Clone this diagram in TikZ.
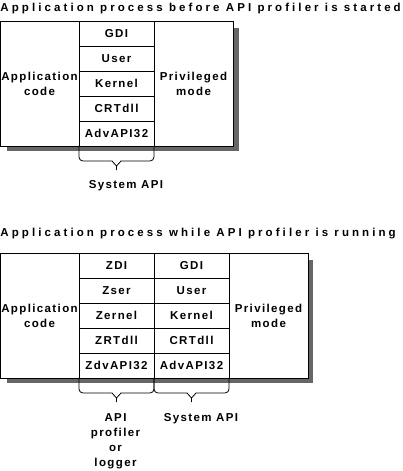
\documentclass[tikz,border=0pt]{standalone}
\usepackage{fontspec}
\setmainfont{Liberation Sans}[LetterSpace=12]
\newfontfamily\headfont{Liberation Sans}[LetterSpace=26.8]
\usetikzlibrary{positioning}

\begin{document}
\begin{tikzpicture}[x=1pt,y=-1pt,line width=1pt,node distance=0pt,
   every node/.style={font=\fontsize{11.5}{15}\selectfont\bfseries,inner sep=0pt},
   bigbox/.style={draw,fill=white,outer sep=0pt,minimum width=79pt,minimum height=125pt,align=center},
   cell/.style={draw,fill=white,outer sep=0pt,minimum width=75pt,minimum height=25pt},
   shade/.style={fill=black!60},
   title/.style={anchor=base west,font=\headfont\fontsize{11.5}{15}\selectfont\bfseries}]
   \useasboundingbox (0,0) rectangle (403,471);
   % before the profiler is started
   \node[title] (head1) at (0,11.5) {Application process before API profiler is started};
   \fill[shade] (7,28) rectangle (239,151);
   \node[bigbox,anchor=north west] (app1) at (0,21) {Application\\code};
   \node[cell,anchor=north west] (gdi1) at (app1.north east) {GDI};
   \node[cell,below=of gdi1] (user1) {User};
   \node[cell,below=of user1] (kernel1) {Kernel};
   \node[cell,below=of kernel1] (crt1) {CRTdll};
   \node[cell,below=of crt1] (adv1) {AdvAPI32};
   \node[bigbox,anchor=north west] (priv1) at (gdi1.north east) {Privileged\\mode};
   \draw[line width=0.8pt] (adv1.south west) -- ++(0,11) arc[start angle=180,end angle=90,radius=4]
      -- ++(29,0) -- ++(4.5,5) -- ++(0,4) ++(0,-4) -- ++(4.5,-5) -- ++(29,0)
      arc[start angle=90,end angle=0,radius=4] -- (adv1.south east);
   \node[anchor=base] (sys1) at (126,188) {System API};
   % while the profiler is running
   \node[title] (head2) at (0,236) {Application process while API profiler is running};
   \fill[shade] (7,260) rectangle (313,383);
   \node[bigbox,anchor=north west] (app2) at (0,253) {Application\\code};
   \node[cell,anchor=north west] (zdi) at (app2.north east) {ZDI};
   \node[cell,below=of zdi] (zser) {Zser};
   \node[cell,below=of zser] (zernel) {Zernel};
   \node[cell,below=of zernel] (zrt) {ZRTdll};
   \node[cell,below=of zrt] (zdv) {ZdvAPI32};
   \node[cell,anchor=north west] (gdi2) at (zdi.north east) {GDI};
   \node[cell,below=of gdi2] (user2) {User};
   \node[cell,below=of user2] (kernel2) {Kernel};
   \node[cell,below=of kernel2] (crt2) {CRTdll};
   \node[cell,below=of crt2] (adv2) {AdvAPI32};
   \node[bigbox,anchor=north west] (priv2) at (gdi2.north east) {Privileged\\mode};
   \draw[line width=0.8pt] (zdv.south west) -- ++(0,11) arc[start angle=180,end angle=90,radius=4]
      -- ++(29,0) -- ++(4.5,5) -- ++(0,4) ++(0,-4) -- ++(4.5,-5) -- ++(29,0)
      arc[start angle=90,end angle=0,radius=4] -- (zdv.south east);
   \draw[line width=0.8pt] (adv2.south west) -- ++(0,11) arc[start angle=180,end angle=90,radius=4]
      -- ++(29,0) -- ++(4.5,5) -- ++(0,4) ++(0,-4) -- ++(4.5,-5) -- ++(29,0)
      arc[start angle=90,end angle=0,radius=4] -- (adv2.south east);
   \node[anchor=north,align=center] (logger) at (115.5,413) {API\\profiler\\or\\logger};
   \node[anchor=base] (sys2) at (201,421) {System API};
\end{tikzpicture}
\end{document}
